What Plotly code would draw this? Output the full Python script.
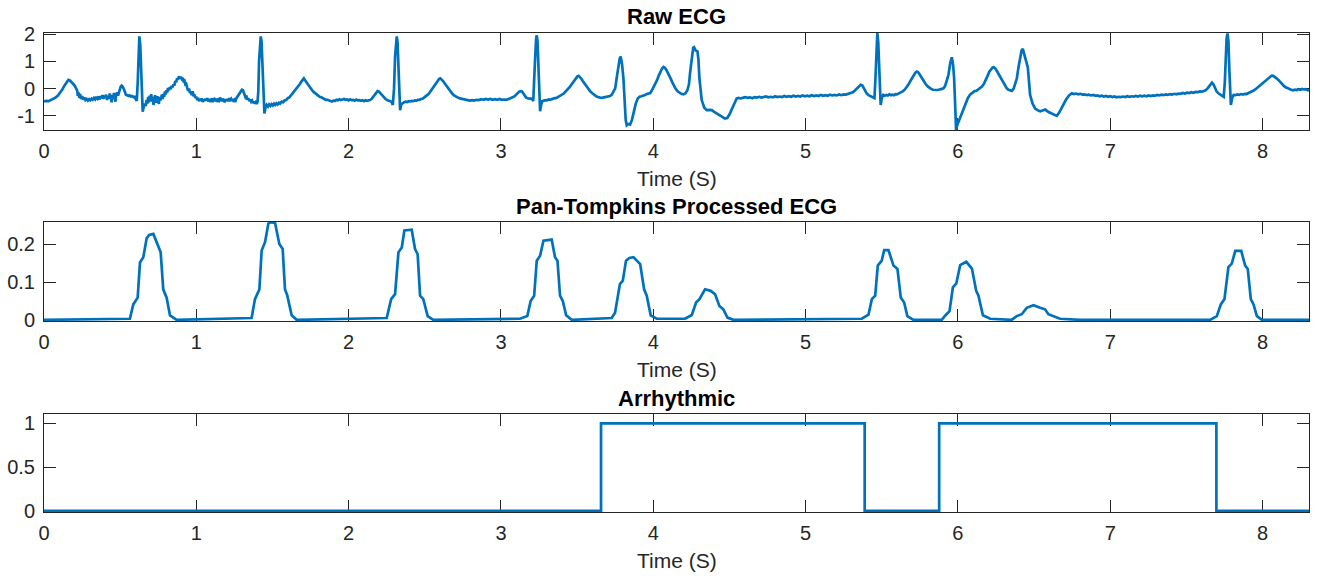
import plotly.graph_objects as go

# ---------------- data ----------------
# Raw ECG trace as (time s, amplitude) samples
ecg_samples = [
    (0.000, -0.47), (0.015, -0.45), (0.030, -0.46), (0.045, -0.42), (0.060, -0.39), (0.075, -0.33),
    (0.090, -0.26), (0.105, -0.15), (0.120, -0.03), (0.135, 0.12), (0.150, 0.26), (0.160, 0.32),
    (0.170, 0.30), (0.180, 0.25), (0.190, 0.18), (0.200, 0.12), (0.210, 0.02),
    (0.218, -0.08), (0.222, -0.26), (0.227, -0.14), (0.232, -0.34), (0.237, -0.20), (0.243, -0.38),
    (0.250, -0.28), (0.257, -0.40), (0.265, -0.33), (0.272, -0.42), (0.280, -0.38), (0.288, -0.44),
    (0.296, -0.39), (0.304, -0.43), (0.312, -0.37), (0.320, -0.41), (0.328, -0.34), (0.336, -0.39),
    (0.344, -0.30), (0.352, -0.37), (0.360, -0.29), (0.366, -0.40), (0.372, -0.27), (0.378, -0.35),
    (0.384, -0.24), (0.390, -0.38), (0.396, -0.26), (0.402, -0.33), (0.408, -0.22), (0.414, -0.42),
    (0.420, -0.27), (0.426, -0.36), (0.432, -0.18), (0.438, -0.34), (0.444, -0.50), (0.449, -0.24),
    (0.454, -0.38), (0.459, -0.16), (0.464, -0.44), (0.469, -0.48), (0.474, -0.22), (0.480, -0.14),
    (0.486, -0.26), (0.492, -0.12), (0.498, -0.02), (0.504, 0.08), (0.510, 0.11), (0.516, 0.08),
    (0.522, 0.01), (0.530, -0.12), (0.538, -0.22), (0.546, -0.24), (0.554, -0.27), (0.562, -0.25),
    (0.570, -0.29), (0.578, -0.27), (0.586, -0.31), (0.594, -0.30), (0.602, -0.36), (0.609, -0.45),
    (0.615, 0.20), (0.620, 1.40), (0.626, 1.92), (0.632, 1.60), (0.638, 0.60), (0.644, -0.40),
    (0.648, -0.85), (0.655, -0.66), (0.662, -0.55), (0.668, -0.64), (0.674, -0.42),
    (0.679, -0.55), (0.684, -0.30), (0.689, -0.50), (0.694, -0.26), (0.699, -0.46), (0.704, -0.20),
    (0.709, -0.48), (0.714, -0.30), (0.719, -0.60), (0.724, -0.38), (0.729, -0.24), (0.734, -0.52),
    (0.739, -0.40), (0.744, -0.28), (0.749, -0.44), (0.754, -0.56), (0.759, -0.30), (0.764, -0.42),
    (0.769, -0.36), (0.774, -0.22), (0.779, -0.38), (0.784, -0.20), (0.789, -0.30), (0.794, -0.10),
    (0.799, -0.22), (0.804, -0.06), (0.809, -0.14), (0.814, 0.02), (0.820, -0.06), (0.826, 0.06),
    (0.832, -0.02), (0.838, 0.10), (0.844, 0.05), (0.850, 0.16), (0.856, 0.12), (0.862, 0.28),
    (0.868, 0.24), (0.874, 0.38), (0.880, 0.33), (0.886, 0.45), (0.892, 0.38), (0.898, 0.44),
    (0.904, 0.36), (0.910, 0.40), (0.916, 0.28), (0.922, 0.30), (0.928, 0.16), (0.934, 0.18),
    (0.940, 0.04), (0.946, -0.08), (0.952, 0.00), (0.958, -0.16), (0.964, -0.12), (0.970, -0.24),
    (0.976, -0.10), (0.982, -0.28), (0.988, -0.22), (0.994, -0.34), (1.000, -0.30), (1.006, -0.42),
    (1.012, -0.34), (1.018, -0.46), (1.024, -0.38), (1.030, -0.44), (1.036, -0.36), (1.042, -0.49),
    (1.048, -0.40), (1.054, -0.45), (1.060, -0.37), (1.066, -0.43), (1.072, -0.35), (1.078, -0.47),
    (1.084, -0.39), (1.090, -0.44), (1.096, -0.41), (1.102, -0.49), (1.108, -0.36), (1.114, -0.43),
    (1.120, -0.39), (1.126, -0.46), (1.132, -0.37), (1.138, -0.49), (1.144, -0.41), (1.150, -0.44),
    (1.156, -0.33), (1.162, -0.40), (1.168, -0.46), (1.174, -0.37), (1.180, -0.42), (1.186, -0.50),
    (1.192, -0.39), (1.198, -0.45), (1.204, -0.38), (1.210, -0.46), (1.216, -0.35), (1.222, -0.41),
    (1.228, -0.37), (1.234, -0.45), (1.240, -0.38), (1.246, -0.49), (1.252, -0.41), (1.258, -0.44),
    (1.264, -0.34), (1.270, -0.30), (1.276, -0.26), (1.282, -0.20), (1.288, -0.14), (1.294, -0.08),
    (1.300, -0.04), (1.306, -0.06), (1.312, -0.14), (1.318, -0.26), (1.324, -0.33), (1.330, -0.30),
    (1.336, -0.40), (1.342, -0.36), (1.348, -0.46), (1.354, -0.40), (1.360, -0.48), (1.366, -0.44),
    (1.372, -0.53), (1.378, -0.47), (1.384, -0.55), (1.390, -0.50), (1.396, -0.56), (1.402, -0.48),
    (1.407, -0.10), (1.412, 1.00), (1.418, 1.75), (1.423, 1.92), (1.428, 1.75), (1.435, 0.60),
    (1.442, -0.50), (1.447, -0.91), (1.454, -0.70), (1.462, -0.60), (1.470, -0.66), (1.478, -0.58),
    (1.486, -0.63), (1.494, -0.57), (1.502, -0.62), (1.510, -0.55), (1.518, -0.60), (1.526, -0.54),
    (1.534, -0.58), (1.542, -0.52), (1.550, -0.55), (1.560, -0.48), (1.570, -0.50), (1.580, -0.43),
    (1.590, -0.42), (1.600, -0.35), (1.610, -0.33), (1.620, -0.26), (1.630, -0.22), (1.640, -0.14),
    (1.650, -0.08), (1.660, 0.00), (1.670, 0.08), (1.680, 0.17), (1.690, 0.26), (1.700, 0.36),
    (1.706, 0.38), (1.714, 0.31), (1.722, 0.24), (1.730, 0.17), (1.740, 0.09), (1.750, 0.02),
    (1.760, -0.06), (1.770, -0.12), (1.780, -0.17), (1.790, -0.22), (1.800, -0.25), (1.810, -0.30),
    (1.820, -0.32), (1.830, -0.36), (1.840, -0.37), (1.850, -0.41), (1.860, -0.41), (1.870, -0.44),
    (1.880, -0.44), (1.890, -0.47), (1.900, -0.44), (1.910, -0.45), (1.920, -0.41), (1.930, -0.43),
    (1.940, -0.39), (1.950, -0.42), (1.960, -0.40), (1.970, -0.38), (1.980, -0.41), (1.990, -0.40),
    (2.000, -0.43), (2.010, -0.39), (2.020, -0.42), (2.030, -0.41), (2.040, -0.44), (2.050, -0.40),
    (2.060, -0.43), (2.070, -0.42), (2.080, -0.45), (2.090, -0.43), (2.100, -0.46), (2.110, -0.43),
    (2.120, -0.45), (2.130, -0.44), (2.140, -0.42), (2.150, -0.38), (2.160, -0.31), (2.170, -0.22),
    (2.180, -0.14), (2.190, -0.09), (2.198, -0.10), (2.206, -0.15), (2.214, -0.22), (2.222, -0.28),
    (2.232, -0.34), (2.242, -0.38), (2.252, -0.42), (2.262, -0.44), (2.272, -0.46), (2.282, -0.48),
    (2.290, -0.60), (2.298, 0.00), (2.305, 1.20), (2.311, 1.80), (2.316, 1.92), (2.321, 1.70),
    (2.327, 0.80), (2.333, -0.20), (2.338, -0.79), (2.345, -0.58), (2.355, -0.52), (2.365, -0.50),
    (2.375, -0.48), (2.385, -0.49), (2.395, -0.46), (2.405, -0.47), (2.415, -0.45), (2.425, -0.46),
    (2.435, -0.43), (2.445, -0.44), (2.455, -0.41), (2.465, -0.41), (2.475, -0.38), (2.485, -0.37),
    (2.495, -0.33), (2.505, -0.30), (2.515, -0.24), (2.525, -0.20), (2.535, -0.12), (2.545, -0.06),
    (2.555, 0.04), (2.565, 0.12), (2.575, 0.22), (2.585, 0.30), (2.595, 0.36), (2.602, 0.38),
    (2.610, 0.35), (2.620, 0.28), (2.630, 0.20), (2.640, 0.12), (2.650, 0.03), (2.660, -0.05),
    (2.670, -0.12), (2.680, -0.18), (2.690, -0.24), (2.700, -0.28), (2.710, -0.32), (2.720, -0.34),
    (2.730, -0.36), (2.740, -0.37), (2.750, -0.39), (2.765, -0.41), (2.780, -0.42), (2.795, -0.44),
    (2.810, -0.42), (2.825, -0.44), (2.840, -0.41), (2.855, -0.42), (2.870, -0.39), (2.885, -0.41),
    (2.900, -0.38), (2.915, -0.40), (2.930, -0.38), (2.945, -0.41), (2.960, -0.39), (2.975, -0.41),
    (2.990, -0.38), (3.005, -0.41), (3.020, -0.40), (3.035, -0.41), (3.050, -0.38), (3.060, -0.36),
    (3.070, -0.35), (3.080, -0.31), (3.090, -0.28), (3.100, -0.21), (3.110, -0.15), (3.120, -0.11),
    (3.130, -0.09), (3.138, -0.10), (3.146, -0.17), (3.155, -0.27), (3.165, -0.33), (3.175, -0.35),
    (3.185, -0.37), (3.195, -0.36), (3.205, -0.39), (3.212, -0.45), (3.218, 0.10), (3.225, 1.20),
    (3.231, 1.85), (3.235, 1.96), (3.240, 1.75), (3.246, 0.80), (3.252, -0.20), (3.257, -0.83),
    (3.264, -0.58), (3.272, -0.46), (3.282, -0.44), (3.292, -0.42), (3.302, -0.43), (3.312, -0.40),
    (3.322, -0.41), (3.332, -0.38), (3.342, -0.38), (3.352, -0.35), (3.362, -0.35), (3.372, -0.32),
    (3.382, -0.30), (3.392, -0.27), (3.402, -0.22), (3.412, -0.18), (3.422, -0.12), (3.432, -0.07),
    (3.442, 0.00), (3.452, 0.06), (3.462, 0.14), (3.472, 0.23), (3.482, 0.31), (3.492, 0.39),
    (3.502, 0.45), (3.510, 0.47), (3.518, 0.44), (3.526, 0.38), (3.536, 0.29), (3.546, 0.21),
    (3.556, 0.13), (3.566, 0.04), (3.576, -0.04), (3.586, -0.10), (3.596, -0.15), (3.606, -0.20),
    (3.616, -0.25), (3.626, -0.28), (3.636, -0.31), (3.646, -0.33), (3.656, -0.34), (3.668, -0.33),
    (3.680, -0.32), (3.692, -0.31), (3.704, -0.30), (3.716, -0.27), (3.728, -0.22), (3.740, -0.12),
    (3.750, 0.01), (3.760, 0.40), (3.771, 0.88), (3.780, 1.12), (3.786, 1.18), (3.795, 0.90),
    (3.804, 0.38), (3.812, -0.40), (3.819, -1.16), (3.826, -1.35), (3.837, -1.30), (3.848, -1.32),
    (3.860, -1.15), (3.870, -0.91), (3.885, -0.55), (3.898, -0.36), (3.910, -0.30), (3.922, -0.28),
    (3.934, -0.24), (3.946, -0.23), (3.958, -0.20), (3.970, -0.19), (3.980, -0.16), (3.990, -0.07),
    (4.000, 0.04), (4.012, 0.14), (4.024, 0.30), (4.036, 0.48), (4.048, 0.64), (4.058, 0.74),
    (4.067, 0.80), (4.076, 0.77), (4.086, 0.69), (4.096, 0.59), (4.106, 0.47), (4.116, 0.35),
    (4.126, 0.22), (4.136, 0.10), (4.146, 0.00), (4.160, -0.10), (4.172, -0.16), (4.184, -0.19),
    (4.198, -0.21), (4.212, -0.17), (4.224, -0.06), (4.234, 0.15), (4.242, 0.60), (4.253, 1.25),
    (4.262, 1.50), (4.268, 1.52), (4.278, 1.40), (4.290, 1.37), (4.296, 1.10), (4.303, 0.38),
    (4.310, -0.10), (4.318, -0.42), (4.335, -0.70), (4.351, -0.79), (4.368, -0.78), (4.384, -0.79),
    (4.400, -0.85), (4.417, -0.91), (4.440, -1.00), (4.460, -1.08), (4.471, -1.10), (4.485, -1.08),
    (4.500, -0.95), (4.520, -0.70), (4.535, -0.50), (4.548, -0.36), (4.560, -0.34), (4.575, -0.36),
    (4.592, -0.33), (4.605, -0.31), (4.620, -0.34), (4.635, -0.32), (4.650, -0.35), (4.665, -0.31),
    (4.680, -0.33), (4.695, -0.30), (4.710, -0.33), (4.725, -0.31), (4.740, -0.29), (4.755, -0.32),
    (4.770, -0.30), (4.785, -0.32), (4.800, -0.28), (4.815, -0.31), (4.830, -0.29), (4.845, -0.31),
    (4.860, -0.27), (4.875, -0.30), (4.890, -0.28), (4.905, -0.30), (4.920, -0.26), (4.935, -0.29),
    (4.950, -0.27), (4.965, -0.29), (4.980, -0.25), (4.995, -0.28), (5.010, -0.26), (5.025, -0.28),
    (5.040, -0.24), (5.055, -0.27), (5.070, -0.25), (5.085, -0.27), (5.100, -0.23), (5.115, -0.26),
    (5.130, -0.24), (5.145, -0.26), (5.160, -0.22), (5.175, -0.25), (5.190, -0.23), (5.205, -0.25),
    (5.220, -0.21), (5.235, -0.24), (5.250, -0.21), (5.265, -0.22), (5.280, -0.19), (5.295, -0.17),
    (5.310, -0.13), (5.322, -0.08), (5.335, -0.01), (5.350, 0.09), (5.362, 0.14), (5.372, 0.12),
    (5.382, 0.03), (5.392, -0.10), (5.402, -0.18), (5.414, -0.24), (5.428, -0.28), (5.442, -0.31),
    (5.452, -0.35), (5.458, 0.30), (5.464, 1.40), (5.471, 2.04), (5.477, 1.70), (5.483, 0.70),
    (5.488, -0.20), (5.493, -0.60), (5.500, -0.35), (5.510, -0.23), (5.520, -0.26), (5.530, -0.23),
    (5.540, -0.25), (5.550, -0.21), (5.560, -0.24), (5.570, -0.22), (5.580, -0.24), (5.590, -0.20),
    (5.600, -0.21), (5.610, -0.18), (5.620, -0.17), (5.630, -0.13), (5.640, -0.09), (5.652, -0.03),
    (5.664, 0.05), (5.676, 0.16), (5.688, 0.28), (5.700, 0.40), (5.710, 0.50), (5.720, 0.58),
    (5.730, 0.63), (5.738, 0.61), (5.746, 0.55), (5.756, 0.45), (5.766, 0.35), (5.776, 0.26),
    (5.788, 0.17), (5.800, 0.09), (5.812, 0.03), (5.824, -0.01), (5.836, -0.04), (5.848, -0.05),
    (5.860, -0.05), (5.872, -0.04), (5.884, -0.03), (5.896, -0.01), (5.906, 0.02), (5.916, 0.10),
    (5.926, 0.28), (5.938, 0.51), (5.950, 0.95), (5.960, 1.15), (5.968, 0.90), (5.975, 0.40),
    (5.982, -0.60), (5.988, -1.52), (5.995, -1.35), (6.005, -1.20), (6.015, -1.10), (6.030, -0.85),
    (6.048, -0.54), (6.065, -0.35), (6.081, -0.21), (6.095, -0.15), (6.110, -0.09), (6.122, -0.08),
    (6.134, -0.03), (6.146, 0.01), (6.158, 0.08), (6.170, 0.17), (6.182, 0.30), (6.194, 0.46),
    (6.206, 0.62), (6.218, 0.73), (6.228, 0.78), (6.236, 0.79), (6.246, 0.74), (6.256, 0.65),
    (6.266, 0.55), (6.277, 0.44), (6.288, 0.31), (6.300, 0.17), (6.312, 0.06), (6.321, 0.01),
    (6.332, -0.04), (6.344, -0.07), (6.354, -0.08), (6.366, 0.00), (6.376, 0.16), (6.387, 0.38),
    (6.398, 0.80), (6.409, 1.12), (6.418, 1.40), (6.426, 1.46), (6.436, 1.25), (6.446, 1.00),
    (6.452, 0.90), (6.459, 0.78), (6.466, 0.30), (6.474, -0.23), (6.490, -0.55), (6.507, -0.73),
    (6.525, -0.80), (6.540, -0.83), (6.555, -0.80), (6.573, -0.77), (6.595, -0.86), (6.616, -0.91),
    (6.635, -0.97), (6.649, -1.00), (6.665, -0.88), (6.680, -0.72), (6.693, -0.58), (6.710, -0.40),
    (6.730, -0.25), (6.748, -0.17), (6.762, -0.20), (6.776, -0.18), (6.790, -0.21), (6.804, -0.19),
    (6.818, -0.22), (6.832, -0.21), (6.846, -0.24), (6.860, -0.22), (6.874, -0.25), (6.888, -0.23),
    (6.902, -0.26), (6.916, -0.25), (6.930, -0.28), (6.944, -0.26), (6.958, -0.29), (6.972, -0.27),
    (6.986, -0.30), (7.000, -0.28), (7.014, -0.31), (7.028, -0.29), (7.042, -0.32), (7.056, -0.30),
    (7.070, -0.31), (7.084, -0.29), (7.098, -0.31), (7.112, -0.28), (7.126, -0.30), (7.140, -0.28),
    (7.154, -0.29), (7.168, -0.27), (7.182, -0.29), (7.196, -0.26), (7.210, -0.28), (7.224, -0.26),
    (7.238, -0.28), (7.252, -0.25), (7.266, -0.27), (7.280, -0.25), (7.294, -0.26), (7.308, -0.23),
    (7.322, -0.25), (7.336, -0.22), (7.350, -0.24), (7.364, -0.21), (7.378, -0.23), (7.392, -0.20),
    (7.406, -0.22), (7.420, -0.19), (7.434, -0.21), (7.448, -0.18), (7.462, -0.19), (7.476, -0.16),
    (7.490, -0.18), (7.504, -0.15), (7.518, -0.16), (7.532, -0.13), (7.546, -0.15), (7.560, -0.12),
    (7.574, -0.13), (7.588, -0.10), (7.602, -0.11), (7.614, -0.09), (7.626, -0.06), (7.638, 0.00),
    (7.648, 0.08), (7.658, 0.17), (7.668, 0.22), (7.678, 0.15), (7.688, 0.01), (7.698, -0.10),
    (7.710, -0.17), (7.722, -0.22), (7.734, -0.25), (7.745, -0.30), (7.752, 0.20), (7.758, 1.20),
    (7.764, 1.85), (7.770, 2.03), (7.776, 1.75), (7.782, 0.70), (7.787, -0.10), (7.792, -0.60),
    (7.800, -0.35), (7.810, -0.23), (7.822, -0.24), (7.834, -0.21), (7.846, -0.23), (7.858, -0.20),
    (7.870, -0.22), (7.882, -0.19), (7.894, -0.20), (7.906, -0.17), (7.918, -0.15), (7.930, -0.11),
    (7.942, -0.07), (7.954, -0.02), (7.966, 0.04), (7.978, 0.09), (7.990, 0.14), (8.002, 0.21),
    (8.014, 0.27), (8.026, 0.34), (8.038, 0.40), (8.050, 0.45), (8.060, 0.48), (8.070, 0.47),
    (8.080, 0.44), (8.092, 0.38), (8.104, 0.32), (8.116, 0.24), (8.128, 0.17), (8.140, 0.10),
    (8.152, 0.05), (8.164, 0.01), (8.176, -0.03), (8.188, -0.04), (8.200, -0.06), (8.212, -0.04),
    (8.224, -0.05), (8.236, -0.02), (8.248, -0.04), (8.260, -0.01), (8.272, -0.03), (8.284, -0.02),
    (8.296, -0.06), (8.305, -0.07),
]
ecg_time = [s[0] for s in ecg_samples]
ecg_amp = [s[1] for s in ecg_samples]

# Pan-Tompkins integrated output
pt_time = [
    0.000, 0.250, 0.564, 0.586, 0.615, 0.630, 0.652, 0.674, 0.690, 0.718, 0.740, 0.766, 0.783,
    0.805, 0.827, 0.871, 1.363, 1.385, 1.414, 1.429, 1.451, 1.473, 1.490, 1.517, 1.545, 1.567,
    1.582, 1.597, 1.626, 1.659, 2.250, 2.279, 2.305, 2.327, 2.349, 2.366, 2.414, 2.436, 2.453,
    2.469, 2.490, 2.519, 2.556, 3.125, 3.173, 3.195, 3.218, 3.235, 3.257, 3.279, 3.333, 3.355,
    3.371, 3.388, 3.406, 3.428, 3.465, 3.727, 3.749, 3.781, 3.800, 3.821, 3.843, 3.870, 3.892,
    3.914, 3.940, 3.957, 3.983, 4.023, 4.209, 4.253, 4.281, 4.303, 4.340, 4.377, 4.406, 4.434,
    4.460, 4.487, 4.526, 5.369, 5.413, 5.435, 5.457, 5.474, 5.500, 5.516, 5.544, 5.577, 5.603,
    5.625, 5.647, 5.668, 5.708, 5.894, 5.916, 5.945, 5.967, 5.989, 6.015, 6.055, 6.092, 6.120,
    6.135, 6.164, 6.212, 6.353, 6.386, 6.419, 6.452, 6.496, 6.540, 6.572, 6.594, 6.627, 6.670,
    6.802, 7.656, 7.700, 7.726, 7.750, 7.776, 7.798, 7.821, 7.860, 7.886, 7.903, 7.923, 7.941,
    7.963, 7.996, 8.305,
]
pt_value = [
    0.000, 0.002, 0.003, 0.041, 0.059, 0.152, 0.166, 0.216, 0.225, 0.228, 0.206, 0.179, 0.081,
    0.059, 0.012, 0.000, 0.005, 0.055, 0.081, 0.184, 0.206, 0.255, 0.259, 0.257, 0.201, 0.188,
    0.081, 0.065, 0.012, 0.000, 0.005, 0.055, 0.068, 0.179, 0.192, 0.237, 0.239, 0.188, 0.174,
    0.064, 0.055, 0.010, 0.000, 0.003, 0.010, 0.050, 0.064, 0.157, 0.170, 0.210, 0.213, 0.166,
    0.157, 0.064, 0.050, 0.012, 0.000, 0.005, 0.019, 0.095, 0.104, 0.157, 0.164, 0.166, 0.157,
    0.148, 0.081, 0.064, 0.012, 0.003, 0.003, 0.013, 0.046, 0.055, 0.081, 0.077, 0.068, 0.037,
    0.028, 0.006, 0.000, 0.003, 0.014, 0.055, 0.064, 0.144, 0.157, 0.185, 0.185, 0.144, 0.135,
    0.059, 0.046, 0.010, 0.000, 0.000, 0.011, 0.023, 0.086, 0.096, 0.145, 0.154, 0.136, 0.077,
    0.064, 0.012, 0.003, 0.000, 0.010, 0.015, 0.032, 0.039, 0.032, 0.028, 0.015, 0.010, 0.003,
    0.000, 0.000, 0.010, 0.041, 0.055, 0.140, 0.149, 0.183, 0.183, 0.144, 0.135, 0.055, 0.041,
    0.010, 0.000, 0.000,
]

# Arrhythmia flag (step changes)
arr_time = [0.0, 3.657, 5.388, 5.877, 7.697, 8.305]
arr_flag = [0, 1, 0, 1, 0, 0]

titles = ["Raw ECG", "Pan-Tompkins Processed ECG", "Arrhythmic"]
x_label = "Time (S)"
x_ticks = [0, 1, 2, 3, 4, 5, 6, 7, 8]
y_ticks = [[-1, 0, 1, 2], [0, 0.1, 0.2], [0, 0.5, 1]]
y_tick_text = [["-1", "0", "1", "2"], ["0", "0.1", "0.2"], ["0", "0.5", "1"]]

# ---------------- styling ----------------
W, H = 1322, 577
LINE = "#0072BD"
AX = "#262626"
FONT = "Liberation Sans, Arial, Helvetica, sans-serif"
T_END = 8.305

# pixel rows (top, bottom) of each axes box
boxes = [(33, 130), (222, 321), (414, 512)]
y_ranges = [[-1.52, 2.045], [-0.003, 0.2595], [-0.014, 1.107]]


def py(p):
    return 1 - p / H


fig = go.Figure()
series = [(ecg_time, ecg_amp, "linear"), (pt_time, pt_value, "linear"), (arr_time, arr_flag, "hv")]
for i, (xs, ys, shape) in enumerate(series):
    sfx = "" if i == 0 else str(i + 1)
    fig.add_trace(go.Scatter(
        x=xs, y=ys, mode="lines", line=dict(color=LINE, width=2.7, shape=shape),
        xaxis="x" + sfx, yaxis="y" + sfx, showlegend=False, hoverinfo="skip",
    ))

common = dict(
    showline=True, linecolor=AX, linewidth=1, mirror="allticks",
    ticks="inside", ticklen=12, tickwidth=1, tickcolor=AX,
    showgrid=False, zeroline=False, layer="below traces", automargin=False,
    tickfont=dict(family=FONT, size=20, color=AX),
)

layout = dict(
    width=W, height=H, paper_bgcolor="white", plot_bgcolor="white",
    margin=dict(l=44, r=13, t=0, b=0, autoexpand=False), showlegend=False,
)
annotations = []
for i, (top, bot) in enumerate(boxes):
    sfx = "" if i == 0 else str(i + 1)
    layout["xaxis" + sfx] = dict(
        common, domain=[0, 1], anchor="y" + sfx, range=[0, T_END],
        tickvals=x_ticks, ticktext=[str(v) for v in x_ticks], ticklabelstandoff=3,
    )
    layout["yaxis" + sfx] = dict(
        common, domain=[py(bot), py(top)], anchor="x" + sfx, range=y_ranges[i],
        tickvals=y_ticks[i], ticktext=y_tick_text[i], ticklabelstandoff=4,
    )
    annotations.append(dict(
        text="<b>" + titles[i] + "</b>", x=0.5, y=py(top - 16), xref="paper", yref="paper",
        xanchor="center", yanchor="middle", showarrow=False,
        font=dict(family=FONT, size=22, color="black"),
    ))
    annotations.append(dict(
        text=x_label, x=0.5, y=py(bot + 48), xref="paper", yref="paper",
        xanchor="center", yanchor="middle", showarrow=False,
        font=dict(family=FONT, size=21, color=AX),
    ))
layout["annotations"] = annotations
fig.update_layout(**layout)

fig.write_html("out.html")
